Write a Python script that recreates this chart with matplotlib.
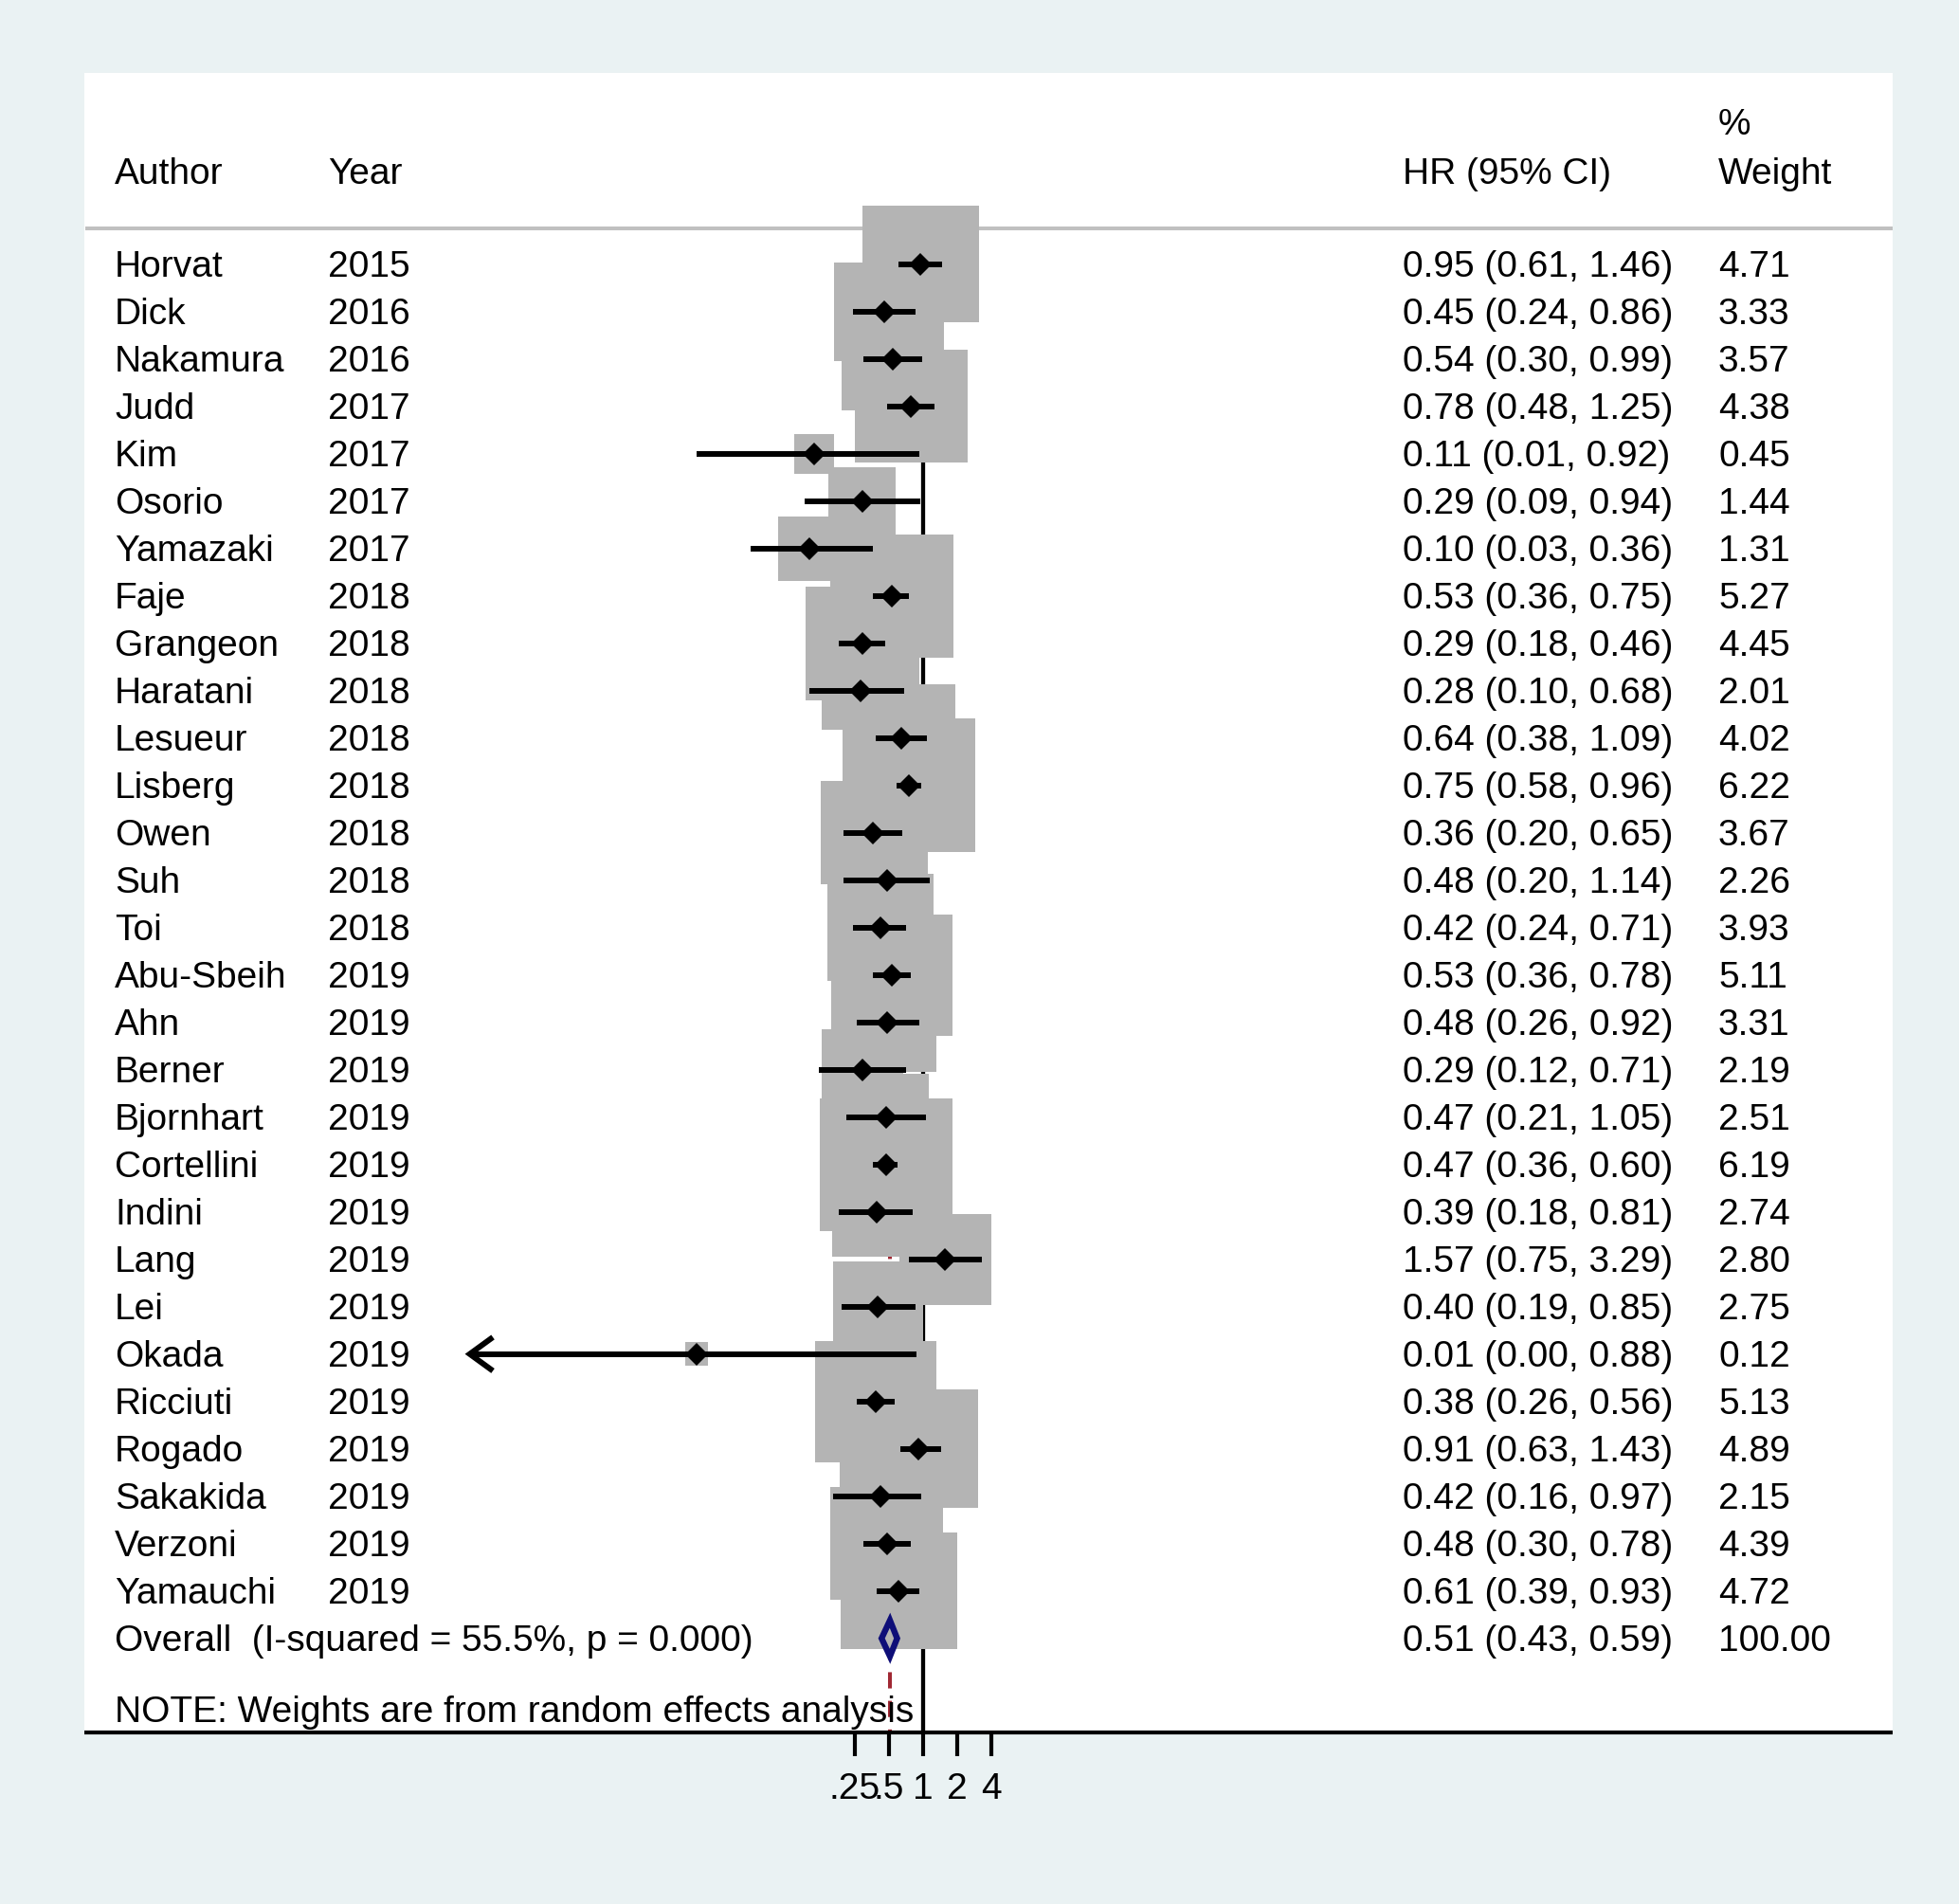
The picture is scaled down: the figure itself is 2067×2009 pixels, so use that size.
import numpy as np
import matplotlib
matplotlib.use("Agg")
import matplotlib.pyplot as plt
from matplotlib.patches import Polygon
import matplotlib.transforms as mtransforms

plt.rcParams['font.family'] = ['Liberation Sans', 'DejaVu Sans']

# ---------------- data ----------------
authors = ["Horvat", "Dick", "Nakamura", "Judd", "Kim", "Osorio", "Yamazaki", "Faje",
           "Grangeon", "Haratani", "Lesueur", "Lisberg", "Owen", "Suh", "Toi",
           "Abu-Sbeih", "Ahn", "Berner", "Bjornhart", "Cortellini", "Indini", "Lang",
           "Lei", "Okada", "Ricciuti", "Rogado", "Sakakida", "Verzoni", "Yamauchi"]
years = [2015, 2016, 2016, 2017, 2017, 2017, 2017, 2018, 2018, 2018, 2018, 2018, 2018,
         2018, 2018, 2019, 2019, 2019, 2019, 2019, 2019, 2019, 2019, 2019, 2019, 2019,
         2019, 2019, 2019]
hr = [0.95, 0.45, 0.54, 0.78, 0.11, 0.29, 0.10, 0.53, 0.29, 0.28, 0.64, 0.75, 0.36,
      0.48, 0.42, 0.53, 0.48, 0.29, 0.47, 0.47, 0.39, 1.57, 0.40, 0.01, 0.38, 0.91,
      0.42, 0.48, 0.61]
lo = [0.61, 0.24, 0.30, 0.48, 0.01, 0.09, 0.03, 0.36, 0.18, 0.10, 0.38, 0.58, 0.20,
      0.20, 0.24, 0.36, 0.26, 0.12, 0.21, 0.36, 0.18, 0.75, 0.19, 0.00, 0.26, 0.63,
      0.16, 0.30, 0.39]
hi = [1.46, 0.86, 0.99, 1.25, 0.92, 0.94, 0.36, 0.75, 0.46, 0.68, 1.09, 0.96, 0.65,
      1.14, 0.71, 0.78, 0.92, 0.71, 1.05, 0.60, 0.81, 3.29, 0.85, 0.88, 0.56, 1.43,
      0.97, 0.78, 0.93]
weights = [4.71, 3.33, 3.57, 4.38, 0.45, 1.44, 1.31, 5.27, 4.45, 2.01, 4.02, 6.22, 3.67,
           2.26, 3.93, 5.11, 3.31, 2.19, 2.51, 6.19, 2.74, 2.80, 2.75, 0.12, 5.13, 4.89,
           2.15, 4.39, 4.72]
overall_hr, overall_lo, overall_hi = 0.51, 0.43, 0.59
overall_weight = 100.00
overall_label = "Overall  (I-squared = 55.5%, p = 0.000)"
note_text = "NOTE: Weights are from random effects analysis"
x_trunc_low = 0.0001  # lower truncation of the plotted range
xticks = [0.25, 0.5, 1, 2, 4]
xtick_labels = [".25", ".5", "1", "2", "4"]

# ---------------- figure ----------------
W, H = 2067, 2009
BG = '#EAF2F3'
fig = plt.figure(figsize=(W / 100, H / 100), dpi=100, facecolor=BG)

px_left, px_right, px_top, px_bottom = 89, 1997, 77, 1828
ax = fig.add_axes([px_left / W, 1 - px_bottom / H, (px_right - px_left) / W,
                   (px_bottom - px_top) / H])
ax.set_facecolor('white')

# x: log2 scale, 36 px per doubling, HR=1 at px 974
ppd, px_one = 36.0, 974.0
ax.set_xscale('log', base=2)
ax.set_xlim(2 ** ((px_left - px_one) / ppd), 2 ** ((px_right - px_one) / ppd))
# y: row index, 50 px per row, first study at px 278.7
row0, rowh = 278.7, 50.0
ybot = (px_bottom - row0) / rowh
ytop = (px_top - row0) / rowh
ax.set_ylim(ybot, ytop)

n = len(authors)
rows = np.arange(n)
overall_row = n

for s in ['top', 'left', 'right']:
    ax.spines[s].set_visible(False)
ax.spines['bottom'].set_linewidth(3)
ax.spines['bottom'].set_color('black')
ax.spines['bottom'].set_capstyle('butt')
ax.set_yticks([])
ax.set_xticks(xticks)
ax.set_xticklabels(xtick_labels)
ax.xaxis.set_minor_locator(matplotlib.ticker.NullLocator())
ax.tick_params(axis='x', direction='out', length=18, width=3, labelsize=28, pad=12,
               colors='black')

# reference lines
ax.vlines(1, -0.5, ybot, color='black', lw=3.1, zorder=1)
ax.plot([overall_hr, overall_hr], [-0.5, ybot], color='#A02833', lw=2.9,
        dashes=(4.25, 3.25), zorder=1.5, solid_capstyle='butt', dash_capstyle='butt')

# weight boxes
w = np.array(weights)
side_px = 5.8 + 54 * np.sqrt(w)
side_pt = side_px * 72 / 100
ax.scatter(hr, rows, s=side_pt ** 2, marker='s', color='#B4B4B4', linewidths=0,
           zorder=2)

# CIs
lo_plot = np.maximum(np.array(lo), x_trunc_low)
ax.hlines(rows, lo_plot, hi, color='black', lw=4.3, zorder=3, capstyle='butt')
# arrows for truncated CIs
for i in range(n):
    if lo[i] < x_trunc_low:
        xa = x_trunc_low * 2 ** (22 / ppd)
        ax.plot([xa, x_trunc_low, xa], [rows[i] - 0.32, rows[i], rows[i] + 0.32],
                color='black', lw=4.3, solid_joinstyle='miter', zorder=3)

# point estimates
ax.plot(hr, rows, 'D', ms=12.2, color='black', mew=0, zorder=4, linestyle='none')

# overall diamond
dia = Polygon([(overall_lo, overall_row), (overall_hr, overall_row - 0.38),
               (overall_hi, overall_row), (overall_hr, overall_row + 0.38)],
              closed=True, fill=False, edgecolor='#0E0E78', lw=4.6, zorder=5,
              joinstyle='miter')
ax.add_patch(dia)

# header line
ax.axhline(-0.749, xmin=3 / (px_right - px_left), xmax=1, color='#C0C0C0', lw=2.9,
           zorder=1)

# text columns
tr = mtransforms.blended_transform_factory(ax.transAxes, ax.transData)
def colx(px):
    return (px - px_left) / (px_right - px_left)
x_author, x_year, x_hr, x_w = colx(121), colx(346), colx(1480), colx(1813)
fs = 28
bl = 0.266
hdr = -1.70
kw = dict(transform=tr, fontsize=fs, va='baseline', ha='left', color='black')
ax.text(x_author, hdr, "Author", **kw)
ax.text(x_year, hdr, "Year", **kw)
ax.text(x_hr, hdr, "HR (95% CI)", **kw)
ax.text(x_w, hdr, "Weight", **kw)
ax.text(x_w, hdr - 1.04, "%", **kw)

for i in range(n):
    ax.text(x_author, rows[i] + bl, authors[i], **kw)
    ax.text(x_year, rows[i] + bl, str(years[i]), **kw)
    ax.text(x_hr, rows[i] + bl, f"{hr[i]:.2f} ({lo[i]:.2f}, {hi[i]:.2f})", **kw)
    ax.text(x_w, rows[i] + bl, f"{weights[i]:.2f}", **kw)

ax.text(x_author, overall_row + bl, overall_label, **kw)
ax.text(x_hr, overall_row + bl,
        f"{overall_hr:.2f} ({overall_lo:.2f}, {overall_hi:.2f})", **kw)
ax.text(x_w, overall_row + bl, f"{overall_weight:.2f}", **kw)
ax.text(x_author, 30.5 + bl, note_text, **kw)

fig.savefig("out.png", dpi=100, facecolor=BG)
